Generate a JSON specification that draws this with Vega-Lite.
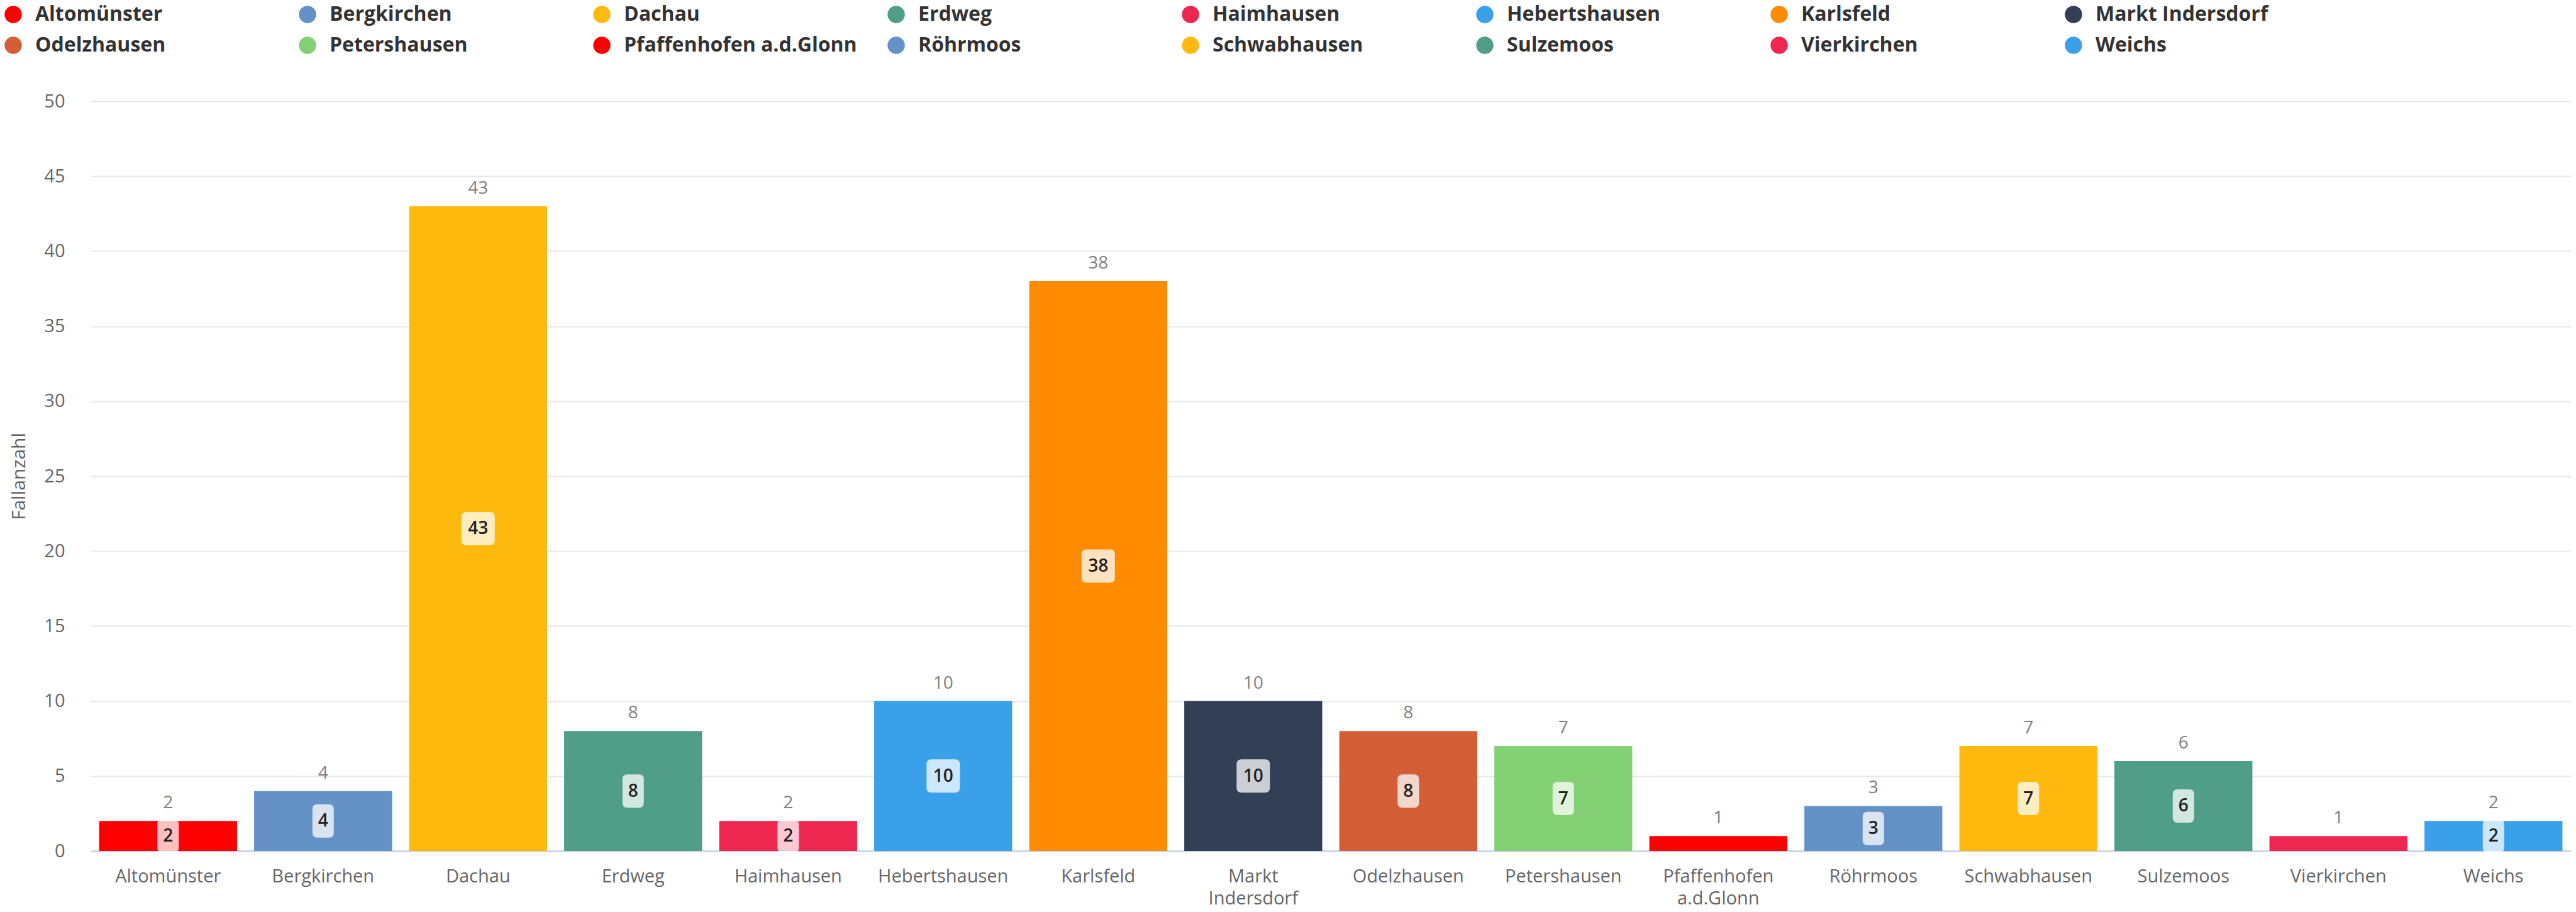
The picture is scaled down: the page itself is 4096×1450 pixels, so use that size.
{
  "$schema": "https://vega.github.io/schema/vega-lite/v6.json",
  "autosize": {"type": "none"},
  "width": 3944,
  "height": 1192,
  "padding": {"left": 144, "top": 161, "right": 8, "bottom": 97},
  "background": "#ffffff",
  "config": {
    "view": {"stroke": null},
    "font": "Open Sans",
    "axis": {"labelFont": "Open Sans", "titleFont": "Open Sans"}
  },
  "data": {
    "values": [
      {"Gemeinde": "Altomünster", "Fallanzahl": 2},
      {"Gemeinde": "Bergkirchen", "Fallanzahl": 4},
      {"Gemeinde": "Dachau", "Fallanzahl": 43},
      {"Gemeinde": "Erdweg", "Fallanzahl": 8},
      {"Gemeinde": "Haimhausen", "Fallanzahl": 2},
      {"Gemeinde": "Hebertshausen", "Fallanzahl": 10},
      {"Gemeinde": "Karlsfeld", "Fallanzahl": 38},
      {"Gemeinde": "Markt Indersdorf", "Fallanzahl": 10},
      {"Gemeinde": "Odelzhausen", "Fallanzahl": 8},
      {"Gemeinde": "Petershausen", "Fallanzahl": 7},
      {"Gemeinde": "Pfaffenhofen a.d.Glonn", "Fallanzahl": 1},
      {"Gemeinde": "Röhrmoos", "Fallanzahl": 3},
      {"Gemeinde": "Schwabhausen", "Fallanzahl": 7},
      {"Gemeinde": "Sulzemoos", "Fallanzahl": 6},
      {"Gemeinde": "Vierkirchen", "Fallanzahl": 1},
      {"Gemeinde": "Weichs", "Fallanzahl": 2}
    ]
  },
  "resolve": {"scale": {"y": "independent"}},
  "layer": [
    {
      "mark": {"type": "bar", "stroke": null},
      "encoding": {
        "x": {
          "field": "Gemeinde", "type": "nominal", "sort": null,
          "scale": {"paddingInner": 0.11, "paddingOuter": 0.055},
          "axis": {
            "title": null, "labelAngle": 0, "labelFontSize": 29, "labelColor": "#666666",
            "labelPadding": 49, "labelLineHeight": 35, "labelBaseline": "alphabetic",
            "labelExpr": "split(datum.label, ' ')", "ticks": false,
            "domainColor": "#ccd6eb", "domainWidth": 3, "grid": false, "labelLimit": 400
          }
        },
        "y": {
          "field": "Fallanzahl", "type": "quantitative",
          "scale": {"domain": [0, 50], "nice": false},
          "axis": {
            "title": "Fallanzahl", "titleFontSize": 30, "titleColor": "#666666", "titleFontWeight": "normal",
            "titlePadding": 24, "labelFontSize": 29, "labelColor": "#666666", "labelPadding": 41,
            "ticks": false, "domain": false, "gridColor": "#e8e8e8", "gridWidth": 2,
            "values": [0, 5, 10, 15, 20, 25, 30, 35, 40, 45, 50]
          }
        },
        "color": {
          "field": "Gemeinde", "type": "nominal", "sort": null,
          "scale": {
            "domain": ["Altomünster", "Bergkirchen", "Dachau", "Erdweg", "Haimhausen", "Hebertshausen", "Karlsfeld", "Markt Indersdorf", "Odelzhausen", "Petershausen", "Pfaffenhofen a.d.Glonn", "Röhrmoos", "Schwabhausen", "Sulzemoos", "Vierkirchen", "Weichs"],
            "range": ["#ff0000", "#6592c6", "#ffb90f", "#509e87", "#ee2750", "#3ba0ea", "#ff8c00", "#333f55", "#d45f36", "#83d174", "#ff0000", "#6592c6", "#ffb90f", "#509e87", "#ee2750", "#3ba0ea"]
          },
          "legend": {
            "title": null, "orient": "none", "legendX": -139, "legendY": -154,
            "direction": "horizontal", "columns": 8, "gridAlign": "all",
            "columnPadding": 46, "rowPadding": 17, "padding": 0,
            "symbolType": "circle", "symbolSize": 755, "symbolStrokeWidth": 0, "symbolOpacity": 1,
            "labelFont": "Open Sans", "labelFontSize": 32, "labelFontWeight": "bold",
            "labelColor": "#333333", "labelOffset": 19, "labelLimit": 600
          }
        }
      }
    },
    {
      "mark": {"type": "text", "baseline": "middle", "dy": -28, "fontSize": 28, "color": "#808080", "font": "Open Sans"},
      "encoding": {
        "x": {"field": "Gemeinde", "type": "nominal", "sort": null},
        "y": {"field": "Fallanzahl", "type": "quantitative", "scale": {"domain": [0, 50], "nice": false}, "axis": null},
        "text": {"field": "Fallanzahl", "type": "quantitative"}
      }
    },
    {
      "transform": [{"filter": "datum.Fallanzahl > 1"}],
      "layer": [
        {
          "mark": {"type": "point", "filled": true, "fill": "#ffffff", "fillOpacity": 0.75, "strokeWidth": 0, "size": 2809},
          "encoding": {
            "x": {"field": "Gemeinde", "type": "nominal", "sort": null},
            "y": {"field": "Fallanzahl", "type": "quantitative", "scale": {"domain": [0, 100], "nice": false}, "axis": null},
            "shape": {
              "condition": {"test": "datum.Fallanzahl >= 10", "value": "M-0.7,-1 L0.7,-1 Q1,-1 1,-0.7 L1,0.7 Q1,1 0.7,1 L-0.7,1 Q-1,1 -1,0.7 L-1,-0.7 Q-1,-1 -0.7,-1 Z"},
              "value": "M-0.342,-1 L0.342,-1 Q0.642,-1 0.642,-0.7 L0.642,0.7 Q0.642,1 0.342,1 L-0.342,1 Q-0.642,1 -0.642,0.7 L-0.642,-0.7 Q-0.642,-1 -0.342,-1 Z"
            }
          }
        },
        {
          "mark": {"type": "text", "baseline": "middle", "fontSize": 28, "fontWeight": 600, "color": "#1f1f1f", "font": "Open Sans", "dy": 1},
          "encoding": {
            "x": {"field": "Gemeinde", "type": "nominal", "sort": null},
            "y": {"field": "Fallanzahl", "type": "quantitative", "scale": {"domain": [0, 100], "nice": false}, "axis": null},
            "text": {"field": "Fallanzahl", "type": "quantitative"}
          }
        }
      ]
    }
  ]
}
